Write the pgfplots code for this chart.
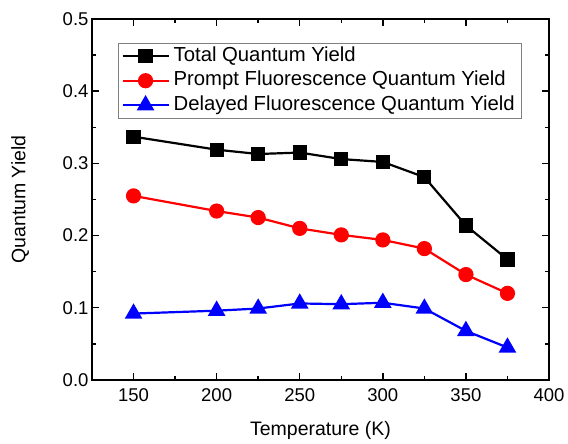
\documentclass[border=0pt]{standalone}
\usepackage{pgfplots}
\pgfplotsset{compat=1.18}
\usepackage{fontspec}
\setmainfont{Liberation Sans}

\begin{document}
\begin{tikzpicture}
\begin{axis}[
  scale only axis,
  width=457pt, height=361pt,
  xmin=125, xmax=400,
  ymin=0, ymax=0.5,
  xtick={150,200,250,300,350,400},
  minor xtick={175,225,275,325,375},
  ytick={0,0.1,0.2,0.3,0.4,0.5},
  minor ytick={0.05,0.15,0.25,0.35,0.45},
  tick align=inside,
  tick pos=both,
  major tick length=7pt,
  minor tick length=4pt,
  every tick/.style={black, line width=1.4pt},
  axis line style={line width=1.8pt},
  /pgf/number format/assume math mode=true,
  yticklabel style={/pgf/number format/fixed, /pgf/number format/fixed zerofill, /pgf/number format/precision=1},
  tick label style={font=\fontsize{18.5}{22}\selectfont},
  xticklabel style={yshift=-5pt},
  xlabel={Temperature (K)},
  ylabel={Quantum Yield},
  every axis x label/.style={at={(axis description cs:0.5,-0.141)}, anchor=center,
    font=\fontsize{19.5}{23}\selectfont},
  every axis y label/.style={at={(axis description cs:-0.157,0.5)}, rotate=90, anchor=center,
    font=\fontsize{19.5}{23}\selectfont},
  legend style={
    at={(axis description cs:0.057,0.934)}, anchor=north west,
    draw=gray, line width=0.8pt,
    font=\fontsize{20.3}{24}\selectfont,
    inner xsep=3pt, inner ysep=1pt,
    row sep=0.5pt,
    nodes={inner ysep=2pt, inner xsep=4pt, text height=15pt, text depth=5pt},
  },
  legend cell align=left,
  legend image code/.code={
    \draw[mark repeat=2, mark phase=2] plot coordinates {(0pt,0pt) (23pt,0pt) (46pt,0pt)};
  },
]
% Total quantum yield
\addplot[black, line width=2.2pt, mark=square*, mark size=6pt, mark options={solid, fill=black}]
  coordinates {(150,0.337) (200,0.319) (225,0.313) (250,0.315) (275,0.306) (300,0.302) (325,0.281) (350,0.214) (375,0.167)};
\addlegendentry{Total Quantum Yield}
% Prompt fluorescence quantum yield
\addplot[red, line width=2.2pt, mark=*, mark size=6.5pt, mark options={solid, fill=red}]
  coordinates {(150,0.255) (200,0.234) (225,0.225) (250,0.210) (275,0.201) (300,0.194) (325,0.182) (350,0.146) (375,0.120)};
\addlegendentry{Prompt Fluorescence Quantum Yield}
% Delayed fluorescence quantum yield
\addplot[blue, line width=2.2pt, mark=triangle*, mark size=8pt, mark options={solid, fill=blue}]
  coordinates {(150,0.092) (200,0.096) (225,0.099) (250,0.106) (275,0.105) (300,0.107) (325,0.099) (350,0.068) (375,0.045)};
\addlegendentry{Delayed Fluorescence Quantum Yield}
\end{axis}
\pgfresetboundingbox
\path[use as bounding box] (current axis.south west) ++(-92pt,-64pt) rectangle ++(568pt,444pt);
\end{tikzpicture}
\end{document}
